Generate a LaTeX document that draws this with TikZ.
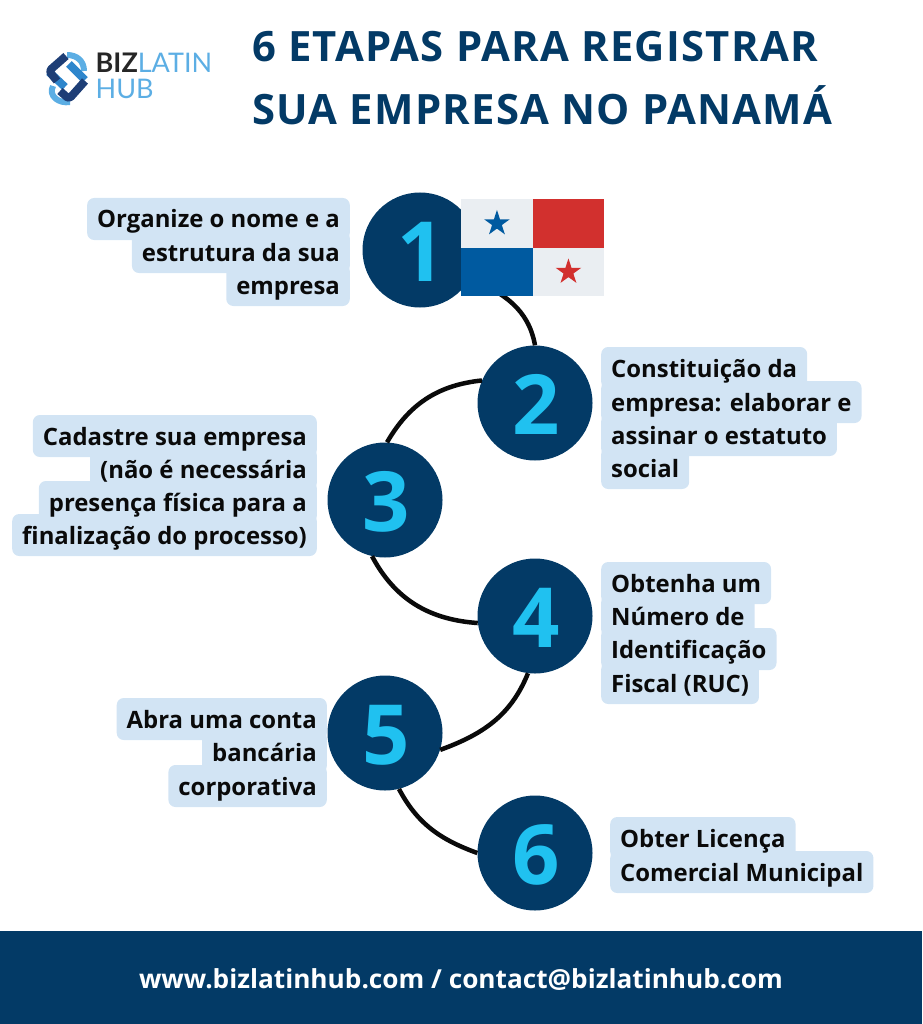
\documentclass[tikz,border=0pt]{standalone}
\usepackage{fontspec}
\setmainfont{Open Sans}
\newfontfamily\titlefont[LetterSpace=3]{Open Sans}
\newfontfamily\logofont{Lato}
\usetikzlibrary{shapes.geometric, backgrounds}
\definecolor{navy1}{RGB}{3, 58, 102}
\definecolor{cyan1}{RGB}{32, 193, 240}
\definecolor{hlblue}{RGB}{210, 228, 244}
\definecolor{flagwhite}{RGB}{234, 238, 242}
\definecolor{flagred}{RGB}{210, 48, 46}
\definecolor{flagblue}{RGB}{0, 90, 160}
\definecolor{logodark}{RGB}{30, 62, 118}
\definecolor{logomid}{RGB}{46, 134, 204}
\definecolor{logolight}{RGB}{92, 174, 228}
\definecolor{inkblack}{RGB}{10, 10, 10}

\tikzset{
  hlbase/.style={inner xsep=10pt, inner ysep=6pt, text height=24pt, text depth=6pt,
    font=\fontsize{23.9}{28}\selectfont\bfseries},
  hlbox/.style={hlbase, fill=hlblue, rounded corners=7pt},
  hltext/.style={hlbase, text=inkblack},
  stepcircle/.style={circle, fill=navy1, text=cyan1, minimum size=115pt, inner sep=0pt,
    text height=63.5pt, text depth=0pt, execute at begin node={\hspace{3pt}},
    font=\fontsize{83}{83}\selectfont\bfseries},
  link/.style={draw=inkblack, line width=4.5pt},
  titletext/.style={anchor=base west, inner sep=0pt, text=navy1, font=\fontsize{41.8}{46}\titlefont\bfseries},
  flagcell/.style={minimum width=71.5pt, minimum height=48.5pt, inner sep=0pt, anchor=north west},
  flagstar/.style={star, star points=5, star point ratio=2.618, minimum size=27pt, inner sep=0pt},
  logoband/.style={line width=8pt, line join=round, rounded corners=3pt},
}
% one line of a label, with its highlight behind it
\newcommand{\hlline}[4]{%
  \begin{pgfonlayer}{background}
    \node[hlbox, anchor=#2] (#1bg) at (#3) {\phantom{#4}};
  \end{pgfonlayer}
  \node[hltext, anchor=#2] (#1) at (#3) {#4};
}

\begin{document}
\begin{tikzpicture}[x=1pt, y=-1pt]
  \path[use as bounding box] (0,0) rectangle (922,1024);

  % logo
  \draw[logoband, logolight, line width=6pt] (67,55) .. controls (77,55) and (84,61) .. (84,71);
  \draw[logoband, logolight, line width=6pt] (53,86) .. controls (48,96) and (59,104) .. (70,102);
  \draw[logoband, logomid] (49,72) -- (65,87);
  \draw[logoband, logomid] (69,64) -- (85,80);
  \draw[logoband, logodark] (66,56) -- (49,71) -- (57,81);
  \draw[logoband, logodark] (85,81) -- (69,99) -- (60,91);
  \node[anchor=base west, inner sep=0pt, font=\fontsize{27}{26}\logofont] (logotop) at (95.5,73)
    {\textcolor{black!85}{\bfseries BIZ}\textcolor{logolight}{LATIN}};
  \node[anchor=base west, inner sep=0pt, text=logolight, font=\fontsize{27}{26}\logofont] (logohub) at (95.5,99) {HUB};

  % title
  \node[titletext] (title1) at (252,62) {6 ETAPAS PARA REGISTRAR};
  \node[titletext] (title2) at (252,125) {SUA EMPRESA NO PANAMÁ};

  % steps
  \node[stepcircle] (n1) at (420,250) {1};
  \node[stepcircle] (n2) at (535,403) {2};
  \node[stepcircle] (n3) at (385,500) {3};
  \node[stepcircle] (n4) at (535,616) {4};
  \node[stepcircle] (n5) at (385,733) {5};
  \node[stepcircle] (n6) at (535,853) {6};

  \draw[link] (n1.-30) to[out=-22, in=100] (n2.90);
  \draw[link] (n2.157) to[out=186, in=60] (n3.88);
  \draw[link] (n3.257) to[out=-62, in=176] (n4.187);
  \draw[link] (n4.263) to[out=-112, in=20] (n5.-17);
  \draw[link] (n5.-76) to[out=-62, in=160] (n6.180);

  % flag
  \node[flagcell, fill=flagwhite] (flagtl) at (461,199) {};
  \node[flagcell, fill=flagred] (flagtr) at (532.5,199) {};
  \node[flagcell, fill=flagblue] (flagbl) at (461,247.5) {};
  \node[flagcell, fill=flagwhite] (flagbr) at (532.5,247.5) {};
  \node[flagstar, fill=flagblue] (starblue) at (flagtl.center) {};
  \node[flagstar, fill=flagred] (starred) at (flagbr.center) {};

  % labels
  \hlline{a1}{east}{350,219}{Organize o nome e a}
  \hlline{a2}{east}{350,252}{estrutura da sua}
  \hlline{a3}{east}{350,285}{empresa}

  \hlline{b1}{west}{601,368}{Constituição da}
  \hlline{b2}{west}{601,402}{empresa: elaborar e}
  \hlline{b3}{west}{601,435}{assinar o estatuto}
  \hlline{b4}{west}{601,468}{social}

  \hlline{c1}{east}{317,436}{Cadastre sua empresa}
  \hlline{c2}{east}{317,469}{(não é necessária}
  \hlline{c3}{east}{317,502}{presença física para a}
  \hlline{c4}{east}{317,535}{finalização do processo)}

  \hlline{d1}{west}{601,583}{Obtenha um}
  \hlline{d2}{west}{601,616}{Número de}
  \hlline{d3}{west}{601,649}{Identificação}
  \hlline{d4}{west}{601,683}{Fiscal (RUC)}

  \hlline{e1}{east}{327,719}{Abra uma conta}
  \hlline{e2}{east}{327,752}{bancária}
  \hlline{e3}{east}{327,786}{corporativa}

  \hlline{f1}{west}{610,838}{Obter Licença}
  \hlline{f2}{west}{610,872}{Comercial Municipal}

  % footer
  \node[fill=navy1, text=white, minimum width=922pt, minimum height=93pt, inner sep=0pt,
    text height=26pt, text depth=5pt, font=\fontsize{26.2}{30}\selectfont\bfseries] (footer) at (461,977.5)
    {www.bizlatinhub.com / contact@bizlatinhub.com};
\end{tikzpicture}
\end{document}
